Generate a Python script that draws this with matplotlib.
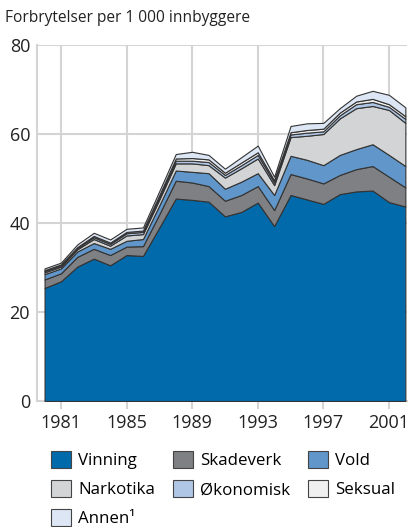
import numpy as np
import matplotlib
matplotlib.use('Agg')
import matplotlib.pyplot as plt
from matplotlib.patches import Patch

plt.rcParams['font.family'] = ['Open Sans', 'DejaVu Sans']

years = list(range(1980, 2003))

# crimes per 1000 inhabitants, by type (stacked)
vinning   = [25.4, 26.9, 30.2, 32.0, 30.5, 32.8, 32.6, 39.0, 45.5, 45.2, 44.8, 41.5,
             42.5, 44.6, 39.3, 46.3, 45.3, 44.3, 46.5, 47.1, 47.3, 44.7, 43.7]
skadeverk = [1.9, 1.8, 2.2, 2.2, 2.3, 1.9, 2.2, 3.0, 4.0, 3.9, 3.5, 3.5,
             3.8, 3.7, 3.6, 4.7, 4.7, 4.6, 4.3, 5.0, 5.5, 5.7, 4.3]
vold      = [1.2, 1.1, 1.2, 1.3, 1.4, 1.3, 1.6, 2.0, 2.3, 2.4, 2.9, 2.7,
             3.0, 2.9, 3.4, 4.1, 4.2, 4.1, 4.5, 4.5, 4.9, 4.9, 4.8]
narkotika = [0.4, 0.4, 0.5, 0.9, 0.7, 1.2, 1.1, 1.3, 1.6, 1.9, 1.8, 2.5,
             3.0, 3.3, 2.2, 4.2, 5.4, 7.0, 8.2, 9.2, 8.6, 10.1, 9.7]
okonomisk = [0.3, 0.3, 0.3, 0.4, 0.4, 0.5, 0.5, 0.6, 0.6, 0.6, 0.7, 0.6,
             0.7, 0.8, 0.6, 0.6, 0.7, 0.6, 0.7, 0.9, 0.9, 0.7, 0.9]
seksual   = [0.2, 0.2, 0.2, 0.3, 0.3, 0.3, 0.3, 0.4, 0.5, 0.6, 0.6, 0.5,
             0.6, 0.6, 0.5, 0.5, 0.6, 0.6, 0.6, 0.6, 0.7, 0.6, 0.6]
annen     = [0.4, 0.4, 0.6, 0.7, 0.7, 0.7, 0.7, 0.9, 1.0, 1.4, 1.0, 0.9,
             1.2, 1.5, 0.8, 1.4, 1.5, 1.3, 1.0, 1.3, 1.8, 2.1, 2.0]

labels = ['Vinning', 'Skadeverk', 'Vold', 'Narkotika', 'Økonomisk', 'Seksual', 'Annen¹']
colors = ['#006aab', '#7f8083', '#6096c9', '#d3d4d6', '#afc6e4', '#f0f0f0', '#dde6f4']
xticks = [1981, 1985, 1989, 1993, 1997, 2001]
yticks = [0, 20, 40, 60, 80]

fig = plt.figure(figsize=(4.12, 5.27), dpi=100)
ax = fig.add_axes([37/412, 1-401/527, 370/412, 356/527])

series = [vinning, skadeverk, vold, narkotika, okonomisk, seksual, annen]
ax.stackplot(years, *series, colors=colors, edgecolor='#333333', linewidth=0.8, zorder=3)

ax.set_xlim(1979.54, 2002.1)
ax.set_ylim(0, 80)
ax.set_xticks(xticks)
ax.set_yticks(yticks)
ax.grid(True, color='#d4d4d4', linewidth=1.5, zorder=0)
ax.set_axisbelow(True)
for s in ['top', 'right']:
    ax.spines[s].set_visible(False)
for s in ['left', 'bottom']:
    ax.spines[s].set_color('#d4d4d4')
    ax.spines[s].set_linewidth(1.5)
ax.tick_params(axis='x', colors='#d4d4d4', length=6, width=1.5, labelcolor='#222222',
               labelsize=13, pad=3)
ax.tick_params(axis='y', length=0, labelcolor='#222222', labelsize=13, pad=5)

fig.text(5/412, 1-18/527, 'Forbrytelser per 1 000 innbyggere', fontsize=11.2,
         color='#222222', va='center', ha='left')

handles = [Patch(facecolor=c, edgecolor='#444444', linewidth=0.8) for c in colors]
order = [0, 3, 6, 1, 4, 2, 5]
fig.legend([handles[i] for i in order], [labels[i] for i in order],
           ncol=3, loc='upper left', bbox_to_anchor=(51/412, 1-451/527),
           frameon=False, fontsize=12.2, handlelength=1.2, handleheight=1.2,
           handletextpad=0.4, columnspacing=1.05, labelspacing=0.62,
           borderaxespad=0, borderpad=0)

fig.savefig('out.png', dpi=100)
